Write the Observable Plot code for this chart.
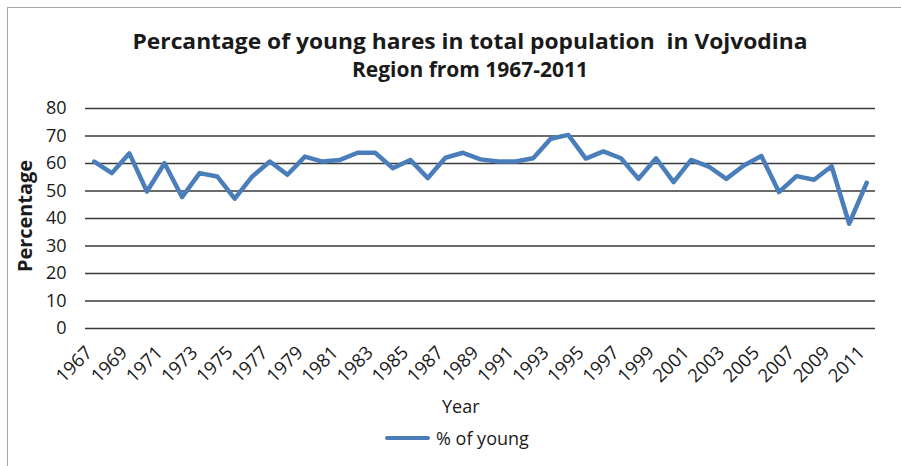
<!DOCTYPE html>
<html><head><meta charset="utf-8">
<script src="https://cdn.jsdelivr.net/npm/d3@7"></script>
<script src="https://cdn.jsdelivr.net/npm/@observablehq/plot@0.6"></script>
<style>
html,body{margin:0;padding:0;background:#fff;overflow:hidden;}
#wrap{position:relative;width:901px;height:466px;overflow:hidden;font-family:"Open Sans",sans-serif;color:#1a1a1a;}
#frame{position:absolute;left:7px;top:7px;width:1000px;height:1000px;border:1.5px solid #a6a6a6;}
#chart{position:absolute;left:0;top:0;}
#title{position:absolute;left:0;top:0;}
#title text{white-space:pre;}
#ylab{position:absolute;left:0;top:0;}
#xlab{position:absolute;left:442px;top:394px;font-size:18px;line-height:24px;}
#legend{position:absolute;left:385px;top:426px;font-size:18px;line-height:24px;display:flex;align-items:center;}
#legend .sw{display:inline-block;width:45px;height:4.5px;background:#4a7ebb;border-radius:2px;margin-right:6px;}
</style>
</head><body>
<div id="wrap">
  <div id="frame"></div>
  <div id="chart"></div>
  <svg id="title" width="901" height="100">
    <text x="470" y="49" text-anchor="middle" font-family="Open Sans" font-weight="bold" font-size="22" fill="#1a1a1a" textLength="675" lengthAdjust="spacingAndGlyphs">Percantage of young hares in total population&#160; in Vojvodina</text>
    <text x="470" y="77" text-anchor="middle" font-family="Open Sans" font-weight="bold" font-size="22" fill="#1a1a1a" textLength="236" lengthAdjust="spacingAndGlyphs">Region from 1967-2011</text>
  </svg>
  <svg id="ylab" width="60" height="466">
    <text transform="translate(32,216) rotate(-90)" text-anchor="middle" font-family="Open Sans" font-weight="bold" font-size="19" fill="#1a1a1a" textLength="112" lengthAdjust="spacingAndGlyphs">Percentage</text>
  </svg>
  <div id="xlab">Year</div>
  <div id="legend"><span class="sw"></span><span>% of young</span></div>
</div>
<script>
const years = [1967,1968,1969,1970,1971,1972,1973,1974,1975,1976,1977,1978,1979,1980,1981,1982,1983,1984,1985,1986,1987,1988,1989,1990,1991,1992,1993,1994,1995,1996,1997,1998,1999,2000,2001,2002,2003,2004,2005,2006,2007,2008,2009,2010,2011];
const youngPct = [60.7,56.5,63.7,49.8,60.1,47.8,56.5,55.3,47.2,55.3,60.7,55.9,62.5,60.7,61.3,63.9,63.9,58.3,61.3,54.7,62.1,63.9,61.5,60.7,60.7,61.9,69.0,70.4,61.8,64.4,61.9,54.4,61.9,53.2,61.3,58.9,54.4,59.3,62.7,49.6,55.4,54.1,59.0,38.1,53.0];
const xTickLabels = [1967,1969,1971,1973,1975,1977,1979,1981,1983,1985,1987,1989,1991,1993,1995,1997,1999,2001,2003,2005,2007,2009,2011];
const yTicks = [0,10,20,30,40,50,60,70,80];

const data = years.map((y,i)=>({year:y, value:youngPct[i]}));

const plot = Plot.plot({
  width:901, height:466,
  marginTop:108, marginBottom:138, marginLeft:85, marginRight:26,
  style:{fontFamily:'"Open Sans", sans-serif', background:"transparent", color:"#1a1a1a"},
  x:{type:"point", domain:years, padding:0.5, round:false, label:null},
  y:{domain:[0,80], label:null},
  marks:[
    Plot.ruleY(yTicks, {stroke:"#3a3a3a", strokeWidth:1.4}),
    Plot.axisY(yTicks, {tickSize:0, tickPadding:19, fontSize:18, label:null, fill:"#1a1a1a"}),
    Plot.axisX(xTickLabels, {tickSize:0, tickRotate:-45, tickPadding:21, dx:-5, fontSize:18.5, label:null, fill:"#1a1a1a", tickFormat:d=>String(d)}),
    Plot.line(data, {x:"year", y:"value", stroke:"#4a7ebb", strokeWidth:4.5})
  ]
});
document.getElementById("chart").appendChild(plot);
</script>
</body></html>
